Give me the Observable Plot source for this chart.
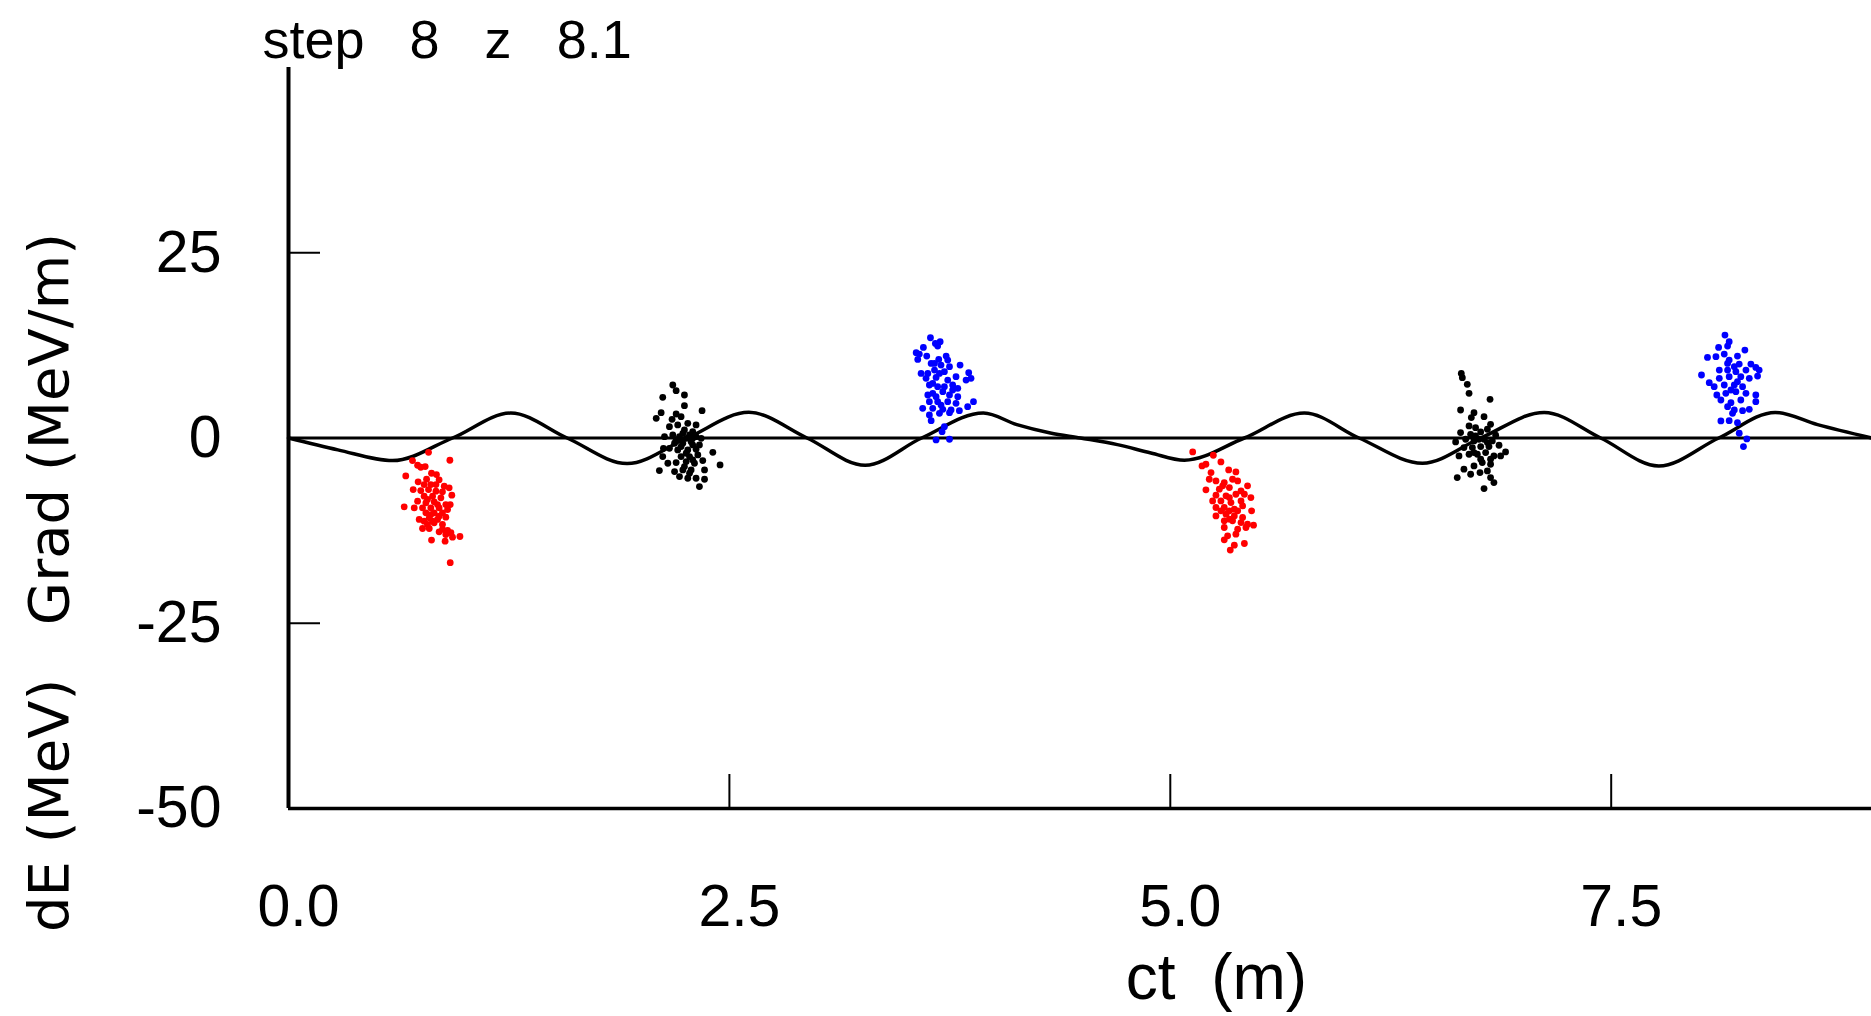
<!DOCTYPE html>
<html><head><meta charset="utf-8">
<script src="https://cdn.jsdelivr.net/npm/d3@7"></script>
<script src="https://cdn.jsdelivr.net/npm/@observablehq/plot@0.6"></script>
<style>
html,body{margin:0;padding:0;background:#fff;overflow:hidden}
svg text{white-space:pre}
</style></head><body><div id="chart"></div>
<script>
const titleText = "step   8   z   8.1";
const xLabel = "ct  (m)";
const yLabel = "dE (MeV)   Grad (MeV/m)";
const xTicks = [0, 2.5, 5, 7.5];
const xTickLabels = ["0.0", "2.5", "5.0", "7.5"];
const yTicks = [25, 0, -25, -50];
const yTickLabels = ["25", "0", "-25", "-50"];

// field curve (read at extrema and zero crossings)
const curveX = [0, 0.28, 0.59, 0.93, 1.26, 1.58, 1.92, 2.26, 2.61, 2.94, 3.27, 3.59, 3.94, 4.13, 4.32, 4.49, 4.70, 4.89, 5.08, 5.42, 5.76, 6.07, 6.43, 6.76, 7.12, 7.44, 7.77, 8.11, 8.43, 8.67, 8.976];
const curveY = [0, -1.6, -3.05, 0, 3.37, 0, -3.45, 0, 3.46, 0, -3.68, 0, 3.37, 1.8, 0.67, 0, -0.89, -2.02, -3.0, 0, 3.37, 0, -3.4, 0, 3.45, 0, -3.77, 0, 3.45, 1.8, 0];

const red1 = [[0.794,-1.93],[0.703,-3.05],[0.915,-3.00],[0.732,-3.68],[0.750,-3.95],[0.775,-3.86],[0.665,-5.12],[0.811,-4.76],[0.839,-4.94],[0.735,-5.92],[0.783,-5.56],[0.854,-5.65],[0.807,-6.28],[0.883,-6.51],[0.911,-6.73],[0.707,-6.96],[0.750,-7.09],[0.794,-6.96],[0.836,-7.18],[0.873,-7.27],[0.926,-7.72],[0.769,-7.85],[0.817,-7.85],[0.864,-8.08],[0.732,-8.53],[0.779,-8.75],[0.826,-8.62],[0.892,-8.98],[0.917,-8.98],[0.656,-9.29],[0.713,-9.42],[0.760,-9.42],[0.807,-9.42],[0.854,-9.42],[0.902,-9.65],[0.779,-10.10],[0.826,-10.10],[0.873,-10.10],[0.741,-10.99],[0.798,-10.77],[0.845,-10.99],[0.892,-10.68],[0.788,-11.67],[0.826,-11.45],[0.873,-11.67],[0.760,-12.21],[0.798,-12.21],[0.854,-12.66],[0.902,-12.48],[0.921,-12.79],[0.930,-13.38],[0.972,-13.29],[0.888,-13.92],[0.811,-13.78],[0.917,-16.83],[0.769,-6.28],[0.836,-6.28],[0.788,-8.30],[0.845,-8.98],[0.807,-10.33],[0.854,-10.55],[0.817,-11.22],[0.769,-11.22],[0.873,-12.34],[0.892,-13.02]];

const black1 = [[2.179,7.15],[2.198,6.38],[2.245,5.80],[2.122,5.49],[2.245,4.36],[2.345,3.69],[2.113,3.42],[2.085,2.66],[2.198,3.24],[2.175,2.52],[2.226,2.88],[2.264,1.98],[2.311,1.76],[2.160,1.53],[2.207,1.76],[2.245,1.08],[2.292,0.86],[2.132,0.18],[2.179,0.41],[2.217,0.18],[2.255,-0.04],[2.311,0.18],[2.340,-0.04],[2.189,-0.71],[2.236,-0.71],[2.283,-0.49],[2.330,-0.94],[2.160,-1.39],[2.207,-1.61],[2.264,-1.61],[2.311,-1.52],[2.226,-2.51],[2.274,-2.51],[2.321,-2.29],[2.406,-1.93],[2.151,-3.41],[2.198,-3.32],[2.255,-3.18],[2.302,-3.41],[2.349,-3.05],[2.447,-3.63],[2.103,-4.40],[2.189,-4.53],[2.236,-4.31],[2.283,-4.31],[2.359,-4.31],[2.217,-5.21],[2.264,-5.43],[2.311,-5.43],[2.359,-5.57],[2.330,-6.55],[2.122,-2.51],[2.126,-1.39],[2.236,0.63],[2.274,0.41],[2.198,-0.26],[2.292,-0.04],[2.226,-1.16],[2.292,-0.94],[2.255,-2.06],[2.245,-3.86],[2.292,-2.96],[2.274,-4.76]];

const blue1 = [[3.640,13.53],[3.668,12.76],[3.695,12.99],[3.681,12.41],[3.600,12.23],[3.559,11.51],[3.577,11.33],[3.568,10.61],[3.619,11.06],[3.687,10.61],[3.729,11.06],[3.738,10.52],[3.808,9.84],[3.644,10.07],[3.700,9.84],[3.663,9.17],[3.587,8.72],[3.625,8.72],[3.719,8.95],[3.857,8.81],[3.785,8.27],[3.842,7.82],[3.870,8.05],[3.615,8.05],[3.672,8.18],[3.738,7.82],[3.634,7.15],[3.681,6.92],[3.766,7.15],[3.795,6.70],[3.653,6.03],[3.710,6.25],[3.748,5.80],[3.625,5.80],[3.795,5.58],[3.634,4.90],[3.681,4.90],[3.738,4.90],[3.785,4.68],[3.884,4.90],[3.851,4.23],[3.596,4.00],[3.653,4.00],[3.710,3.87],[3.757,3.78],[3.804,3.69],[3.634,3.11],[3.691,3.33],[3.748,3.42],[3.644,2.34],[3.719,1.53],[3.706,0.86],[3.672,-0.26],[3.748,-0.17],[3.663,10.07],[3.691,8.72],[3.748,9.62],[3.653,7.37],[3.719,6.92],[3.672,5.58],[3.766,6.48],[3.700,4.45]];

const red2 = [[5.127,-1.88],[5.244,-2.33],[5.202,-3.54],[5.180,-3.77],[5.287,-3.23],[5.331,-4.31],[5.372,-4.58],[5.231,-4.67],[5.221,-5.57],[5.259,-5.79],[5.306,-6.02],[5.353,-5.57],[5.382,-5.79],[5.438,-6.46],[5.202,-7.00],[5.278,-6.91],[5.335,-6.69],[5.401,-7.14],[5.259,-7.72],[5.316,-7.81],[5.372,-7.59],[5.420,-7.59],[5.457,-8.04],[5.240,-8.49],[5.287,-8.49],[5.344,-8.71],[5.401,-8.49],[5.259,-9.38],[5.306,-9.38],[5.363,-9.61],[5.410,-9.16],[5.461,-9.83],[5.259,-10.51],[5.316,-10.28],[5.363,-10.51],[5.410,-10.73],[5.306,-11.18],[5.353,-11.18],[5.401,-11.41],[5.438,-11.63],[5.472,-11.77],[5.306,-12.08],[5.382,-12.30],[5.429,-12.08],[5.372,-12.98],[5.325,-13.20],[5.306,-13.74],[5.420,-14.24],[5.363,-14.46],[5.340,-15.13],[5.297,-6.46],[5.335,-8.04],[5.287,-9.83],[5.335,-9.83],[5.335,-10.96],[5.382,-9.83]];

const black2 = [[6.650,8.72],[6.656,8.14],[6.684,7.24],[6.694,6.03],[6.813,5.22],[6.646,3.78],[6.722,3.42],[6.707,2.75],[6.779,2.88],[6.694,1.63],[6.731,1.40],[6.816,1.85],[6.646,0.73],[6.703,0.50],[6.760,0.82],[6.798,1.18],[6.845,0.37],[6.618,-0.53],[6.675,-0.17],[6.722,-0.40],[6.779,-0.17],[6.826,-0.40],[6.665,-1.29],[6.713,-1.29],[6.760,-1.16],[6.807,-1.16],[6.864,-0.98],[6.901,-1.88],[6.637,-2.42],[6.694,-2.19],[6.741,-2.19],[6.788,-1.97],[6.835,-2.42],[6.873,-2.42],[6.665,-4.21],[6.722,-3.77],[6.769,-3.32],[6.816,-3.54],[6.703,-4.89],[6.756,-4.66],[6.798,-4.44],[6.627,-5.34],[6.816,-5.34],[6.835,-6.01],[6.779,-6.82],[6.750,-0.17],[6.798,-0.62],[6.722,-1.97],[6.760,-2.87],[6.816,-2.87],[6.731,0.28]];

const blue2 = [[8.145,13.89],[8.169,12.99],[8.160,12.41],[8.109,12.23],[8.258,11.87],[8.046,10.88],[8.094,10.97],[8.141,11.33],[8.216,11.06],[8.169,10.52],[8.226,9.98],[8.292,9.98],[8.012,8.50],[8.056,7.46],[8.113,9.17],[8.160,9.17],[8.207,8.95],[8.264,9.17],[8.320,9.53],[8.339,9.17],[8.330,8.36],[8.113,8.05],[8.169,8.27],[8.235,8.27],[8.283,8.05],[8.084,6.92],[8.141,7.15],[8.198,7.15],[8.245,6.92],[8.099,5.80],[8.150,6.03],[8.207,6.25],[8.264,6.03],[8.320,5.80],[8.320,4.90],[8.122,5.13],[8.179,4.77],[8.235,5.13],[8.160,4.23],[8.198,3.78],[8.245,3.69],[8.283,3.87],[8.188,3.33],[8.122,2.30],[8.169,2.34],[8.216,2.07],[8.226,0.64],[8.269,-0.13],[8.250,-1.16],[8.198,9.62],[8.179,6.48],[8.216,7.60],[8.160,10.07]];

const clusters = [
  {pts: red1, color: "#ff0000"},
  {pts: black1, color: "#000000"},
  {pts: blue1, color: "#0000ff"},
  {pts: red2, color: "#ff0000"},
  {pts: black2, color: "#000000"},
  {pts: blue2, color: "#0000ff"}
];
const dots = clusters.flatMap(c => c.pts.map(([x, y]) => ({x, y, color: c.color})));
const curve = curveX.map((x, i) => ({x, y: curveY[i]}));

const W = 1871, H = 1016, mL = 288, mR = 0, mT = 67, mB = 208;
const fw = W - mL - mR, fh = H - mT - mB;
const tickFont = "Liberation Sans, Arial, Helvetica, sans-serif";

const chart = Plot.plot({
  width: W, height: H,
  marginLeft: mL, marginRight: mR, marginTop: mT, marginBottom: mB,
  x: {domain: [0, 8.976]},
  y: {domain: [-50, 50]},
  style: {fontFamily: tickFont, fontSize: "58px", background: "#fff", color: "#000", overflow: "visible"},
  marks: [
    Plot.axisX(xTicks, {tickSize: 0, tickPadding: 76, dx: 10, tickFormat: d => xTickLabels[xTicks.indexOf(d)], label: null, fontSize: 59}),
    Plot.axisY(yTicks, {tickSize: 0, tickPadding: 67, tickFormat: d => yTickLabels[yTicks.indexOf(d)], label: null, fontSize: 59}),
    Plot.tickX(xTicks, {x: d => d, insetTop: fh - 34, stroke: "#000", strokeWidth: 2}),
    Plot.tickY(yTicks, {y: d => d, insetRight: fw - 32, stroke: "#000", strokeWidth: 2}),
    Plot.ruleY([0], {stroke: "#000", strokeWidth: 3}),
    Plot.ruleX([0], {stroke: "#000", strokeWidth: 4}),
    Plot.ruleY([-50], {stroke: "#000", strokeWidth: 3.5}),
    Plot.line(curve, {x: "x", y: "y", curve: "monotone-x", stroke: "#000", strokeWidth: 3.5}),
    Plot.dot(dots, {x: "x", y: "y", r: 3.4, fill: "color", stroke: null}),
    Plot.text([titleText], {frameAnchor: "top-left", text: d => d, dx: 262 - mL, dy: 57 - mT, lineAnchor: "bottom", textAnchor: "start", fontSize: 54, fontFamily: tickFont}),
    Plot.text([xLabel], {frameAnchor: "bottom", text: d => d, dx: 1216 - (mL + fw / 2), dy: 998 - (mT + fh), lineAnchor: "bottom", textAnchor: "middle", fontSize: 64, fontFamily: tickFont}),
    Plot.text([yLabel], {frameAnchor: "left", text: d => d, rotate: -90, dx: 50 - mL, dy: 582 - (mT + fh / 2), lineAnchor: "middle", textAnchor: "middle", fontSize: 56, fontFamily: "DejaVu Sans, sans-serif"})
  ]
});
document.getElementById("chart").appendChild(chart);
</script></body></html>
